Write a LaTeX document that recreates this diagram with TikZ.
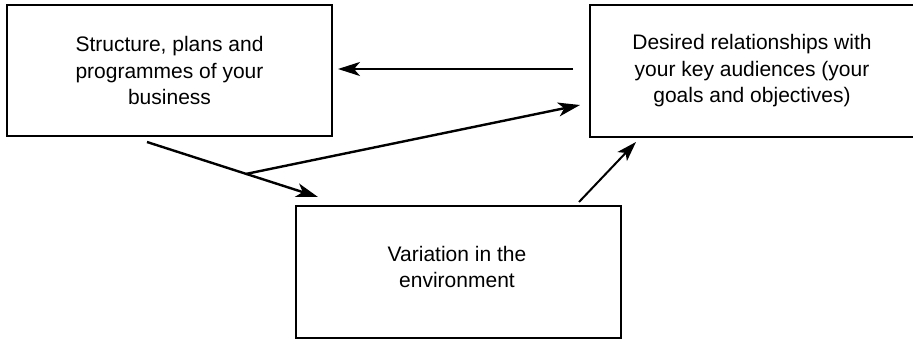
\documentclass[tikz,border=0pt]{standalone}
\usepackage{fontspec}
\setmainfont{Liberation Sans}
\usetikzlibrary{arrows.meta,calc}
\begin{document}
\begin{tikzpicture}[x=1pt,y=-1pt,
  box/.style={draw=black, line width=2.2pt, rectangle, inner sep=0pt, align=center, font=\fontsize{21}{26.5}\selectfont},
  txt/.style={align=center, inner sep=0pt, font=\fontsize{21}{26.5}\selectfont},
  conn/.style={line width=2.4pt, -{Stealth[length=22pt, width=14pt, inset=6pt]}},
  thin conn/.style={line width=2pt, -{Stealth[length=20pt, width=13pt, inset=5pt]}}]
\useasboundingbox (0,0) rectangle (913,340);
\node[box, minimum width=325pt, minimum height=131pt] (A) at (169.5,70.5)
  {Structure, plans and\\programmes of your\\business};
\node[box, minimum width=324pt, minimum height=132pt] (B) at (752,71)
  {Desired relationships with\\your key audiences (your\\goals and objectives)};
\node[box, minimum width=325pt, minimum height=132pt] (C) at (458.5,272) {};
\node[txt] (Ct) at (457,267) {Variation in the\\environment};
% connector end points
\coordinate (b1) at (573,69);
\coordinate (a1) at (338,69);
\coordinate (a2) at (147,142);
\coordinate (c2) at (318,197);
\coordinate (j) at ($(a2)!0.58!(c2)$);
\coordinate (b3) at (580,105);
\coordinate (c4) at (579,202);
\coordinate (b4) at (636,142);
\draw[conn] (b1) -- (a1);
\draw[conn] (a2) -- (c2);
\draw[conn] (j) -- (b3);
\draw[thin conn] (c4) -- (b4);
\end{tikzpicture}
\end{document}
